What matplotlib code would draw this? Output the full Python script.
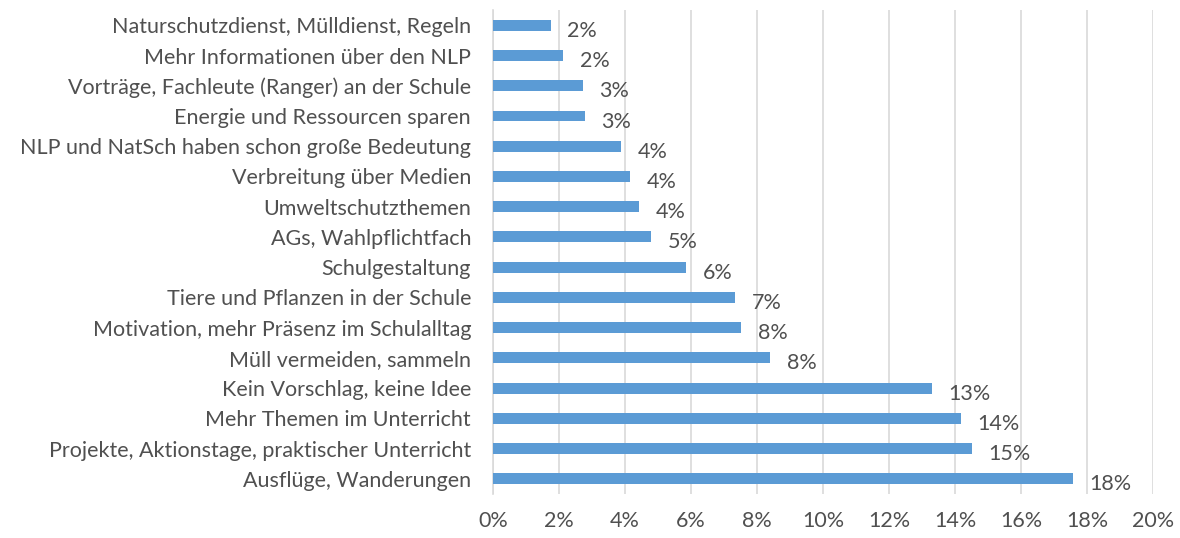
import matplotlib.pyplot as plt
from matplotlib.ticker import PercentFormatter

categories = [
    "Ausflüge, Wanderungen",
    "Projekte, Aktionstage, praktischer Unterricht",
    "Mehr Themen im Unterricht",
    "Kein Vorschlag, keine Idee",
    "Müll vermeiden, sammeln",
    "Motivation, mehr Präsenz im Schulalltag",
    "Tiere und Pflanzen in der Schule",
    "Schulgestaltung",
    "AGs, Wahlpflichtfach",
    "Umweltschutzthemen",
    "Verbreitung über Medien",
    "NLP und NatSch haben schon große Bedeutung",
    "Energie und Ressourcen sparen",
    "Vorträge, Fachleute (Ranger) an der Schule",
    "Mehr Informationen über den NLP",
    "Naturschutzdienst, Mülldienst, Regeln",
]
values = [17.58, 14.52, 14.18, 13.3, 8.39, 7.52, 7.33, 5.85,
          4.79, 4.42, 4.15, 3.88, 2.77, 2.71, 2.13, 1.74]

plt.rcParams['font.family'] = ['Lato', 'DejaVu Sans']
txt = '#505050'

fig = plt.figure(figsize=(11.8, 5.38), dpi=100)
ax = fig.add_axes([0.418, 0.082, 0.559, 0.899])

y = range(len(categories))
ax.barh(y, values, height=0.36, color='#5b9bd5', zorder=3)
for yi, v in zip(y, values):
    ax.annotate(f"{round(v):.0f}%", (v, yi), xytext=(12, -4),
                textcoords='offset points', va='center', ha='left',
                fontsize=15.5, color=txt)

ax.set_ylim(-0.5, len(categories) - 0.5)
ax.set_xlim(0, 20)
ax.set_xticks(range(0, 21, 2))
ax.xaxis.set_major_formatter(PercentFormatter(decimals=0))
ax.set_yticks(list(y))
ax.set_yticklabels(categories)
ax.tick_params(axis='both', length=0, labelsize=15.5, colors=txt)
ax.tick_params(axis='y', pad=16)
ax.tick_params(axis='x', pad=12)
ax.grid(axis='x', color='#d9d9d9', linewidth=1.2, zorder=0)
for s in ['top', 'right', 'bottom']:
    ax.spines[s].set_visible(False)
ax.spines['left'].set_color('#d9d9d9')
ax.spines['left'].set_linewidth(1.2)

fig.savefig('out.png')
